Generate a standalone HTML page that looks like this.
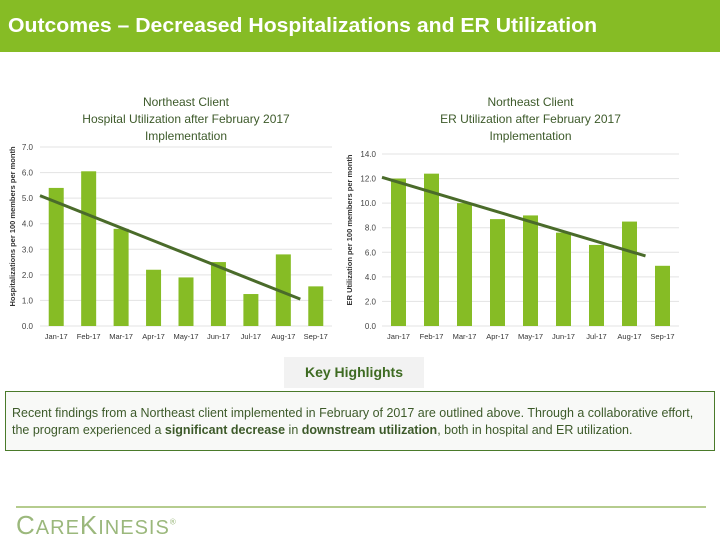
<!DOCTYPE html>
<html><head><meta charset="utf-8"><style>
body{margin:0;width:720px;height:540px;background:#fff;position:relative;overflow:hidden;font-family:"Liberation Sans",sans-serif}
#hdr{position:absolute;left:0;top:0;width:720px;height:52px;background:#86bc25}
#hdr span{position:absolute;left:8px;top:15px;color:#fff;font-size:20px;font-weight:bold;white-space:nowrap;transform:scaleX(1.06);transform-origin:left}
#kh{position:absolute;left:284px;top:357px;width:140px;height:31px;background:#f2f2f2;color:#3e6b22;font-weight:bold;font-size:14px;text-align:center;line-height:31px}
#box{position:absolute;left:5px;top:391px;width:710px;height:60px;border:1px solid #4a7a2a;background:#f8f9f7;color:#3d5a2a;font-size:12.5px;line-height:17px;padding:0 0 0 6px;box-sizing:border-box;padding-top:13px;white-space:nowrap;overflow:hidden}
#line{position:absolute;left:16px;top:506px;width:690px;height:2px;background:#b5cc8e}
#logo{position:absolute;left:16px;top:510px;font-size:26px;color:#9bb87c;letter-spacing:1px}
</style></head><body>
<div id="hdr"><span>Outcomes – Decreased Hospitalizations and ER Utilization</span></div>
<svg width="720" height="350" style="position:absolute;left:0;top:0">
<g id="c1"></g>
<g id="c2"></g>
</svg>
<div id="kh">Key Highlights</div>
<div id="box">Recent findings from a Northeast client implemented in February of 2017 are outlined above. Through a collaborative effort,<br>the program experienced a <b>significant decrease</b> in <b>downstream utilization</b>, both in hospital and ER utilization.</div>
<div id="line"></div>
<div id="logo">C<span style="font-size:20px">ARE</span>K<span style="font-size:20px">INESIS</span><sup style="font-size:8px">®</sup></div>
<script>
const months=["Jan-17","Feb-17","Mar-17","Apr-17","May-17","Jun-17","Jul-17","Aug-17","Sep-17"];
const hospValues=[5.4,6.05,3.8,2.2,1.9,2.5,1.25,2.8,1.55];
const hospTicks=["0.0","1.0","2.0","3.0","4.0","5.0","6.0","7.0"];
const hospTrend=[5.1,1.05];
const erValues=[12.0,12.4,10.0,8.7,9.0,7.6,6.6,8.5,4.9];
const erTicks=["0.0","2.0","4.0","6.0","8.0","10.0","12.0","14.0"];
const erTrend=[12.1,5.7];
const NS="http://www.w3.org/2000/svg";
function mk(p,t,a,txt){const e=document.createElementNS(NS,t);for(const k in a)e.setAttribute(k,a[k]);if(txt!=null)e.textContent=txt;p.appendChild(e);return e;}
function chart(g,cfg){
 const {x0,x1,y0,y1,max,vals,ticks,trend,title,ylab,ylabX,tickX,step}=cfg;
 const sy=v=>y0-(v/max)*(y0-y1);
 const bw=(x1-x0)/vals.length;
 const sx=i=>x0+bw*(i+0.5);
 title.forEach((t,i)=>{const e=mk(g,'text',{x:(x0+x1)/2,y:106+i*17,'text-anchor':'middle','font-size':12,fill:'#3d5a2a'},t);});
 ticks.forEach((t,i)=>{const v=i*step;const y=sy(v);
  const l=mk(g,'line',{x1:x0,x2:x1,y1:y,y2:y,stroke:'#e3e3e3','stroke-width':1});
  const e=mk(g,'text',{x:tickX,y:y+3,'text-anchor':'end','font-size':8,fill:'#444'},t);});
 vals.forEach((v,i)=>{const r=mk(g,'rect',{x:sx(i)-7.5,y:sy(v),width:15,height:sy(0)-sy(v),fill:'#86bc25'});
  const e=mk(g,'text',{x:sx(i),y:y0+13,'text-anchor':'middle','font-size':7.5,fill:'#333'},months[i]);});
 const tl=mk(g,'line',{x1:x0,y1:sy(trend[0]),x2:sx(7)+(cfg.trendEnd||0),y2:sy(trend[1]),stroke:'#4a6b2a','stroke-width':3});
 const yl=mk(g,'text',{x:0,y:0,transform:`translate(${ylabX},${(y0+y1)/2-10}) rotate(-90)`,'text-anchor':'middle','font-size':7.5,fill:'#333','font-weight':'bold'},ylab);
}
chart(document.getElementById('c1'),{x0:40,x1:332,y0:326,y1:147,max:7,step:1,vals:hospValues,ticks:hospTicks,trend:hospTrend,tickX:33,ylabX:15,trendEnd:17,
 title:["Northeast Client","Hospital Utilization after February 2017","Implementation"],ylab:"Hospitalizations per 100 members per month"});
chart(document.getElementById('c2'),{x0:382,x1:679,y0:326,y1:154,max:14,step:2,vals:erValues,ticks:erTicks,trend:erTrend,tickX:376,ylabX:352,trendEnd:16,
 title:["Northeast Client","ER Utilization after February 2017","Implementation"],ylab:"ER Utilization per 100 members per month"});
</script>
</body></html>
